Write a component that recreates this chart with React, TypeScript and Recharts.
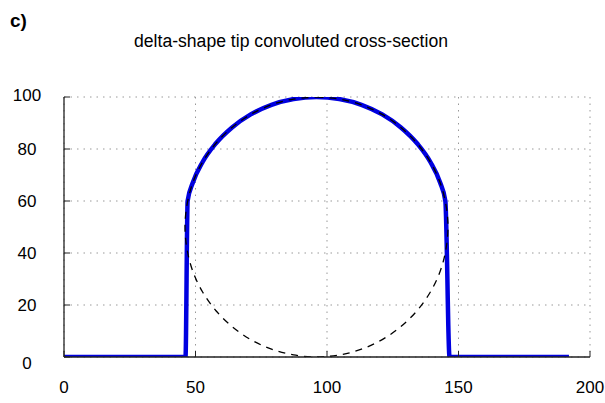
import { LineChart, Line, XAxis, YAxis, CartesianGrid } from "recharts";

// values
const xTicks = [0, 50, 100, 150, 200];
const yTicks = [0, 20, 40, 60, 80, 100];

// convoluted cross-section (thick blue)
const profileX = [0, 46.2, 47, 49, 52.7, 57.7, 63.9, 71, 78.9, 87.3, 96, 104.7, 113.1, 121, 128.1, 134.3, 139.3, 143, 145, 146.6, 192];
const profileY = [0, 0, 60, 67.1, 75, 82.1, 88.3, 93.3, 97, 99.2, 100, 99.2, 97, 93.3, 88.3, 82.1, 75, 67.1, 60, 0, 0];

// tip shape (dashed circle)
const tipX = [96, 104.7, 113.1, 121, 128.1, 134.3, 139.3, 143, 145.2, 146, 145.2, 143, 139.3, 134.3, 128.1, 121, 113.1, 104.7, 96, 87.3, 78.9, 71, 63.9, 57.7, 52.7, 49, 46.8, 46, 46.8, 49, 52.7, 57.7, 63.9, 71, 78.9, 87.3, 96];
const tipY = [100, 99.2, 97, 93.3, 88.3, 82.1, 75, 67.1, 58.7, 50, 41.3, 32.9, 25, 17.9, 11.7, 6.7, 3, 0.8, 0, 0.8, 3, 6.7, 11.7, 17.9, 25, 32.9, 41.3, 50, 58.7, 67.1, 75, 82.1, 88.3, 93.3, 97, 99.2, 100];

const profile = profileX.map((x, i) => ({ x, y: profileY[i] }));
const tip = tipX.map((x, i) => ({ x, y: tipY[i] }));

const FONT = '"Liberation Sans", Arial, sans-serif';
const FRAME = "#222";

function XTick({ x, y, payload }: any) {
  return (
    <text x={x} y={y + 36} textAnchor="middle" fontSize={17} fontFamily={FONT} fill="#000">
      {payload.value}
    </text>
  );
}

function YTick({ x, y, payload }: any) {
  const shift = payload.value === 0 ? 6 : payload.value === 100 ? -2 : 0;
  return (
    <text x={x - 37} y={y + shift + 6} textAnchor="middle" fontSize={17} fontFamily={FONT} fill="#000">
      {payload.value}
    </text>
  );
}

export default function App() {
  return (
    <div style={{ position: "absolute", left: 0, top: 0, width: 605, height: 403, background: "#fff" }}>
      <LineChart width={605} height={403} margin={{ top: 97, right: 15, bottom: 0, left: 0 }}>
        <CartesianGrid stroke="#999" strokeDasharray="1.5 5" />
        <XAxis
          dataKey="x"
          type="number"
          domain={[0, 200]}
          ticks={xTicks}
          height={46}
          axisLine={{ stroke: FRAME, strokeWidth: 1.3 }}
          tickLine={{ stroke: FRAME }}
          tickSize={-6}
          tickMargin={6}
          tick={<XTick />}
          allowDataOverflow
        />
        <XAxis
          xAxisId="top"
          orientation="top"
          type="number"
          domain={[0, 200]}
          ticks={xTicks}
          height={0}
          axisLine={{ stroke: FRAME, strokeWidth: 1.3 }}
          tickLine={{ stroke: FRAME }}
          tickSize={-6}
          tick={false}
        />
        <YAxis
          type="number"
          domain={[0, 100]}
          ticks={yTicks}
          width={64}
          axisLine={{ stroke: FRAME, strokeWidth: 1.3 }}
          tickLine={{ stroke: FRAME }}
          tickSize={-6}
          tickMargin={6}
          tick={<YTick />}
          allowDataOverflow
        />
        <YAxis
          yAxisId="right"
          orientation="right"
          type="number"
          domain={[0, 100]}
          ticks={yTicks}
          width={0}
          axisLine={{ stroke: FRAME, strokeWidth: 1.3 }}
          tickLine={{ stroke: FRAME }}
          tickSize={-6}
          tick={false}
        />
        <Line
          data={profile}
          dataKey="y"
          type="monotoneX"
          stroke="#0000e0"
          strokeWidth={4.5}
          dot={false}
          activeDot={false}
          isAnimationActive={false}
        />
        <Line
          data={tip}
          dataKey="y"
          type="natural"
          stroke="#000"
          strokeWidth={1.3}
          strokeDasharray="7 6"
          dot={false}
          activeDot={false}
          isAnimationActive={false}
        />
      </LineChart>
      <svg width={605} height={403} style={{ position: "absolute", left: 0, top: 0, pointerEvents: "none" }}>
        <text x={10} y={27} fontSize={19} fontWeight="bold" fontFamily={FONT} fill="#000">
          c)
        </text>
        <text x={291} y={47} textAnchor="middle" fontSize={17.6} fontFamily={FONT} fill="#000">
          delta-shape tip convoluted cross-section
        </text>
      </svg>
    </div>
  );
}
